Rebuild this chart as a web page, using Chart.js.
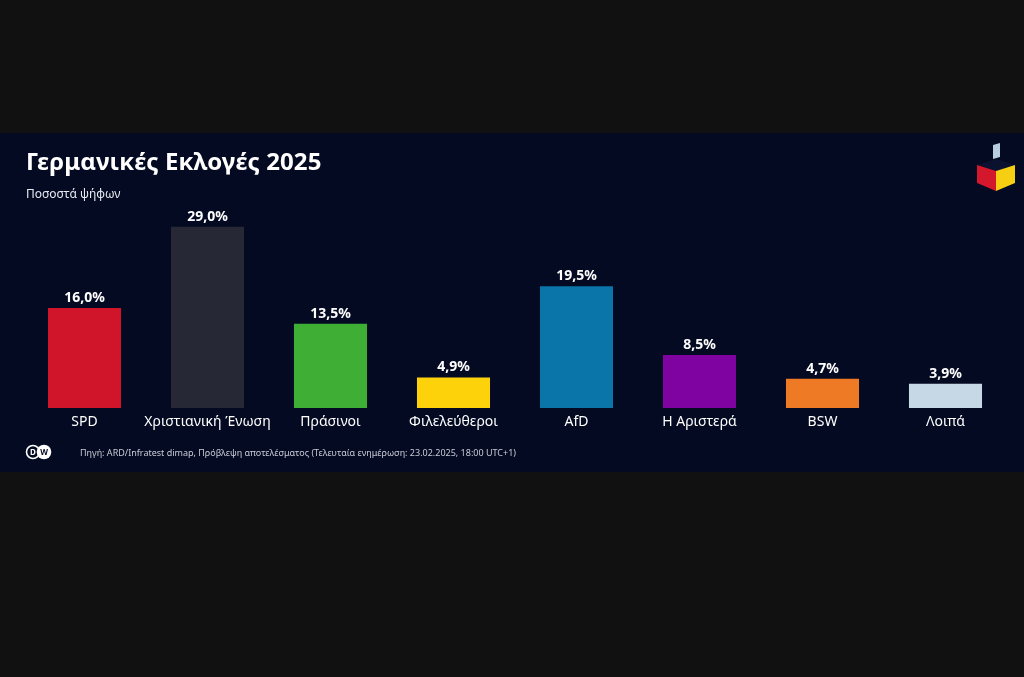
<!DOCTYPE html>
<html>
<head>
<meta charset="utf-8">
<script src="https://cdn.jsdelivr.net/npm/chart.js@4"></script>
<style>
  body { margin: 0; width: 1024px; height: 677px; background: #111111; overflow: hidden; font-family: "Noto Sans", Lato, sans-serif; }
  #panel { position: absolute; left: 0; top: 133px; width: 1024px; height: 339px; background: #040a22; }
  #title { position: absolute; left: 26px; top: 11px; color: #fff; font-size: 24px; font-weight: bold; letter-spacing: 0.1px; }
  #sub { position: absolute; left: 26px; top: 52px; color: #e8eaf0; font-size: 12px; }
  #src { position: absolute; left: 80px; top: 313px; color: #c9ccd6; font-size: 9px; }
  #dw { position: absolute; left: 25px; top: 311px; }
  #cube { position: absolute; left: 974px; top: 10px; }
  #wrap { position: absolute; left: 0; top: 0; width: 1024px; height: 339px; }
</style>
</head>
<body>
<div id="panel">
  <div id="wrap"><canvas id="bars"></canvas></div>
  <div id="title">Γερμανικές Εκλογές 2025</div>
  <div id="sub">Ποσοστά ψήφων</div>
  <svg id="cube" width="44" height="50" viewBox="0 0 44 50">
    <polygon points="19,2 26,0 26,14 19,16" fill="#b9cde0"/>
    <polygon points="3,22 22,16 41,22 22,28" fill="#0b1230"/>
    <polygon points="3,22 22,28 22,48 3,40" fill="#d3172c"/>
    <polygon points="22,28 41,22 41,40 22,48" fill="#f6cf12"/>
  </svg>
  <svg id="dw" width="28" height="16" viewBox="0 0 28 16">
    <circle cx="8" cy="8" r="6.5" fill="none" stroke="#fff" stroke-width="1.6"/>
    <text x="8" y="11" font-size="8" font-weight="bold" fill="#fff" text-anchor="middle" font-family="Noto Sans">D</text>
    <circle cx="19" cy="8" r="7.3" fill="#fff"/>
    <text x="19" y="11" font-size="8" font-weight="bold" fill="#040a22" text-anchor="middle" font-family="Noto Sans">W</text>
  </svg>
  <div id="src">Πηγή: ARD/Infratest dimap, Πρόβλεψη αποτελέσματος (Τελευταία ενημέρωση: 23.02.2025, 18:00 UTC+1)</div>
</div>
<script>
// dati
const parties = ['SPD', 'Χριστιανική Ένωση', 'Πράσινοι', 'Φιλελεύθεροι', 'AfD', 'Η Αριστερά', 'BSW', 'Λοιπά'];
const shares = [16.0, 29.0, 13.5, 4.9, 19.5, 8.5, 4.7, 3.9];
const partyColors = ['#d0152b', '#262935', '#3fae35', '#fdd20a', '#0a75a8', '#7e03a1', '#ef7a26', '#c6d7e5'];

// etichette con il valore sopra ogni barra
const valueLabels = {
  id: 'valueLabels',
  afterDatasetsDraw(chart) {
    const ctx = chart.ctx;
    const meta = chart.getDatasetMeta(0);
    ctx.save();
    ctx.fillStyle = '#ffffff';
    ctx.font = 'bold 14px "Noto Sans", Lato, sans-serif';
    ctx.textAlign = 'center';
    ctx.textBaseline = 'bottom';
    meta.data.forEach((bar, i) => {
      ctx.fillText(shares[i].toFixed(1).replace('.', ',') + '%', bar.x, bar.y - 3);
    });
    ctx.restore();
  }
};

new Chart(document.getElementById('bars'), {
  type: 'bar',
  data: {
    labels: parties,
    datasets: [{
      data: shares,
      backgroundColor: partyColors,
      borderWidth: 0,
      categoryPercentage: 1,
      barPercentage: 0.594
    }]
  },
  options: {
    responsive: true,
    maintainAspectRatio: false,
    animation: false,
    layout: { padding: { left: 23, right: 17, top: 75, bottom: 0 } },
    plugins: { legend: { display: false }, tooltip: { enabled: false } },
    scales: {
      x: {
        grid: { display: false },
        border: { display: false },
        ticks: {
          color: '#ffffff', padding: -2, maxRotation: 0, minRotation: 0, autoSkip: false,
          font: { size: 14, family: '"Noto Sans", Lato, sans-serif' }
        },
        afterFit: (axis) => { axis.height = 64; }
      },
      y: { display: false, min: 0, max: 32 }
    }
  },
  plugins: [valueLabels]
});
</script>
</body>
</html>
